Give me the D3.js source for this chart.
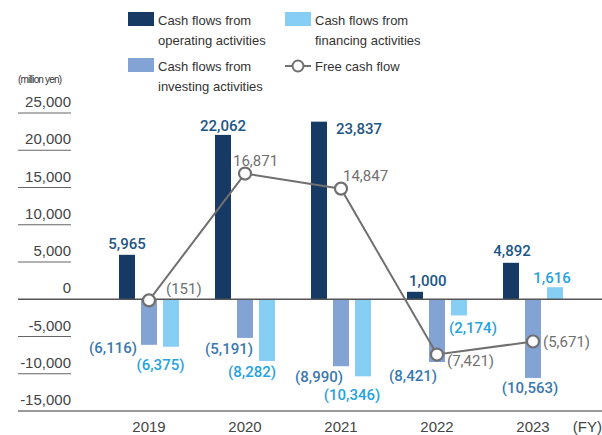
<!DOCTYPE html>
<html>
<head>
<meta charset="utf-8">
<script src="https://cdn.jsdelivr.net/npm/d3@7"></script>
<style>
	body { margin: 0; background: #fff; }
	svg { display: block; font-family: "Liberation Sans", Arial, sans-serif; }
</style>
</head>
<body>
<script>
const years = ["2019", "2020", "2021", "2022", "2023"];
const operating = [5965, 22062, 23837, 1000, 4892];
const investing = [-6116, -5191, -8990, -8421, -10563];
const financing = [-6375, -8282, -10346, -2174, 1616];
const freeCashFlow = [-151, 16871, 14847, -7421, -5671];
const yTicks = [-15000, -10000, -5000, 0, 5000, 10000, 15000, 20000, 25000];

const width = 602, height = 435;

// label placement per bar: [dx from bar centre, anchor, dy from bar end]
const opPlace = [[0, "middle", -6], [0, "middle", -4], [17, "start", 12], [-6, "start", -6], [1, "middle", -7]];
const invPlace = [[-12, "end", 8], [8, "end", 16], [2, "end", 16], [0, "end", 19], [-3, "middle", 15]];
const finPlace = [[-10.5, "middle", 23], [9, "end", 16], [-11, "middle", 24], [-10, "start", 18], [-3, "middle", -4]];
const fcfPlace = [[17, "start", -6], [-12, "start", -8], [2, "start", -8], [10, "start", 11], [10, "start", 5.5]];

const comma = d3.format(",");
const fmt = v => v < 0 ? `(${comma(-v)})` : comma(v);
const tickFmt = v => (v < 0 ? "-" : "") + comma(Math.abs(v));

const colours = {
	operating: "#163a63",
	investing: "#82a3d4",
	financing: "#87cef5",
	line: "#707070"
};
const labelColours = {
	operating: "#1d5687",
	investing: "#3a78b0",
	financing: "#26a3de",
	line: "#707070"
};

const svg = d3.select("body").append("svg")
	.attr("width", width)
	.attr("height", height);

const x = d3.scaleBand()
	.domain(years)
	.range([101, 581])
	.padding(0);

const cx = d => x(d) + x.bandwidth() / 2;

const y = d3.scaleLinear()
	.domain([-15000, 25000])
	.range([411, 113]);

const barW = 16, step = 22;

// y axis: short rules under each label
const axis = svg.append("g");
axis.selectAll("line")
	.data(yTicks.filter(v => v !== 0 && v !== -15000))
	.enter()
	.append("line")
	.attr("stroke", "#666")
	.attr("stroke-width", 1.2)
	.attr("x1", 18)
	.attr("x2", 71)
	.attr("y1", d => y(d))
	.attr("y2", d => y(d));

axis.selectAll("text")
	.data(yTicks)
	.enter()
	.append("text")
	.attr("x", 71)
	.attr("y", d => y(d) - 6)
	.attr("text-anchor", "end")
	.attr("font-size", 15)
	.attr("fill", "#444")
	.text(tickFmt);

svg.append("text")
	.attr("x", 18)
	.attr("y", 83)
	.attr("font-size", 10)
	.attr("fill", "#333")
	.attr("textLength", 44)
	.text("(million yen)");

const series = [
	{ key: "operating", values: operating, off: -step, place: opPlace },
	{ key: "investing", values: investing, off: 0, place: invPlace },
	{ key: "financing", values: financing, off: step, place: finPlace }
];

series.forEach(s => {
	const g = svg.append("g");
	g.selectAll("rect")
		.data(years)
		.enter()
		.append("rect")
		.attr("fill", colours[s.key])
		.attr("x", d => cx(d) + s.off - barW / 2)
		.attr("width", barW)
		.attr("y", (d, i) => y(Math.max(0, s.values[i])))
		.attr("height", (d, i) => Math.abs(y(s.values[i]) - y(0)));

	g.selectAll("text")
		.data(years)
		.enter()
		.append("text")
		.attr("x", (d, i) => cx(d) + s.off + s.place[i][0])
		.attr("y", (d, i) => y(s.values[i]) + s.place[i][2])
		.attr("text-anchor", (d, i) => s.place[i][1])
		.attr("font-family", "Roboto, 'Liberation Sans', sans-serif")
		.attr("font-size", 15)
		.attr("font-weight", 500)
		.attr("fill", labelColours[s.key])
		.text((d, i) => fmt(s.values[i]));
});

// baseline and bottom rule
svg.append("line")
	.attr("stroke", "#555")
	.attr("stroke-width", 1.3)
	.attr("x1", 18).attr("x2", width)
	.attr("y1", y(0)).attr("y2", y(0));

svg.append("line")
	.attr("stroke", "#777")
	.attr("stroke-width", 1.3)
	.attr("x1", 18).attr("x2", width)
	.attr("y1", y(-15000)).attr("y2", y(-15000));

// free cash flow
const line = d3.line()
	.x((d, i) => cx(years[i]))
	.y(d => y(d));

svg.append("path")
	.datum(freeCashFlow)
	.attr("fill", "none")
	.attr("stroke", colours.line)
	.attr("stroke-width", 2)
	.attr("d", line);

svg.append("g")
	.selectAll("circle")
	.data(freeCashFlow)
	.enter()
	.append("circle")
	.attr("cx", (d, i) => cx(years[i]))
	.attr("cy", d => y(d))
	.attr("r", 6)
	.attr("fill", "#fff")
	.attr("stroke", colours.line)
	.attr("stroke-width", 2.2);

svg.append("g")
	.selectAll("text")
	.data(freeCashFlow)
	.enter()
	.append("text")
	.attr("x", (d, i) => cx(years[i]) + fcfPlace[i][0])
	.attr("y", (d, i) => y(d) + fcfPlace[i][2])
	.attr("text-anchor", (d, i) => fcfPlace[i][1])
	.attr("font-family", "Roboto, 'Liberation Sans', sans-serif")
	.attr("font-size", 15)
	.attr("fill", labelColours.line)
	.text(d => fmt(d));

// x axis labels
svg.append("g")
	.selectAll("text")
	.data(years)
	.enter()
	.append("text")
	.attr("x", d => cx(d))
	.attr("y", 432)
	.attr("text-anchor", "middle")
	.attr("font-size", 15)
	.attr("fill", "#444")
	.text(d => d);

svg.append("text")
	.attr("x", 602)
	.attr("y", 432)
	.attr("text-anchor", "end")
	.attr("font-size", 15)
	.attr("fill", "#444")
	.text("(FY)");

// legend
const legend = [
	{ key: "operating", lines: ["Cash flows from", "operating activities"], x: 128, y: 12 },
	{ key: "financing", lines: ["Cash flows from", "financing activities"], x: 285, y: 12 },
	{ key: "investing", lines: ["Cash flows from", "investing activities"], x: 128, y: 58 },
	{ key: "line", lines: ["Free cash flow"], x: 285, y: 58 }
];

const lg = svg.append("g")
	.selectAll("g")
	.data(legend)
	.enter()
	.append("g")
	.attr("transform", d => `translate(${d.x},${d.y})`);

lg.filter(d => d.key !== "line")
	.append("rect")
	.attr("width", 26)
	.attr("height", 14)
	.attr("fill", d => colours[d.key]);

const icon = lg.filter(d => d.key === "line");
icon.append("line")
	.attr("x1", 0).attr("x2", 26)
	.attr("y1", 8).attr("y2", 8)
	.attr("stroke", colours.line)
	.attr("stroke-width", 2);
icon.append("circle")
	.attr("cx", 13).attr("cy", 8).attr("r", 5.5)
	.attr("fill", "#fff")
	.attr("stroke", colours.line)
	.attr("stroke-width", 2);

lg.append("text")
	.attr("x", 30)
	.attr("y", 13)
	.attr("font-size", 13)
	.attr("fill", "#333")
	.selectAll("tspan")
	.data(d => d.lines)
	.enter()
	.append("tspan")
	.attr("x", 30)
	.attr("dy", (d, i) => i ? 20 : 0)
	.text(d => d);
</script>
</body>
</html>
